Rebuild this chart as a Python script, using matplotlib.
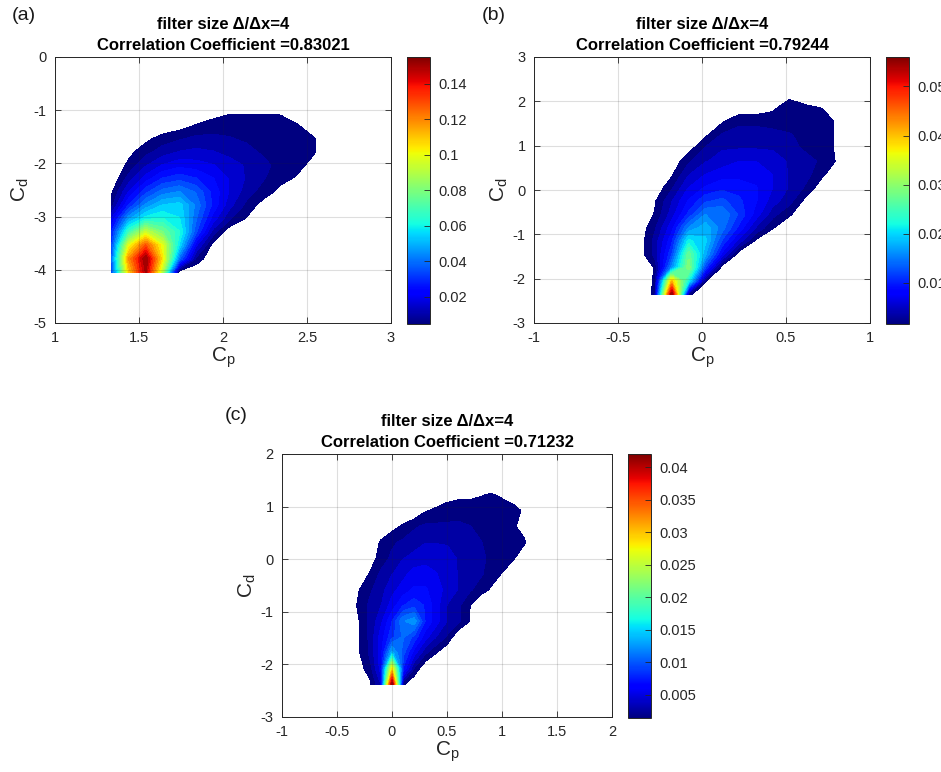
import numpy as np
import matplotlib
matplotlib.use('Agg')
import matplotlib.pyplot as plt
from matplotlib import colors, cm
from matplotlib.ticker import FuncFormatter

plt.rcParams['font.family'] = ['Liberation Sans', 'DejaVu Sans']
plt.rcParams['mathtext.fontset'] = 'custom'
plt.rcParams['mathtext.rm'] = 'Liberation Sans'

# ---- panel (a): joint pdf of Cp / Cd on the sampling grid
cp_a = [1.34, 1.44, 1.54, 1.64, 1.74, 1.84, 1.94, 2.04, 2.14, 2.24, 2.34, 2.44, 2.54, 2.64]
cd_a = [-4.04, -3.79, -3.54, -3.29, -3.04, -2.79, -2.54, -2.29, -2.04, -1.79, -1.54, -1.29, -1.04]
pdf_a = [
    [0.035, 0.110, 0.150, 0.090, 0, 0, 0, 0, 0, 0, 0, 0, 0, 0],
    [0.040, 0.120, 0.155, 0.105, 0.040, 0.008, 0, 0, 0, 0, 0, 0, 0, 0],
    [0.035, 0.100, 0.130, 0.100, 0.058, 0.020, 0.002, 0, 0, 0, 0, 0, 0, 0],
    [0.030, 0.070, 0.095, 0.080, 0.065, 0.035, 0.012, 0, 0, 0, 0, 0, 0, 0],
    [0.020, 0.048, 0.062, 0.065, 0.060, 0.040, 0.022, 0.010, 0.004, 0, 0, 0, 0, 0],
    [0.008, 0.030, 0.046, 0.055, 0.057, 0.043, 0.028, 0.016, 0.008, 0.002, 0, 0, 0, 0],
    [0.004, 0.020, 0.033, 0.042, 0.045, 0.039, 0.028, 0.019, 0.012, 0.007, 0.003, 0, 0, 0],
    [0, 0.012, 0.022, 0.030, 0.033, 0.030, 0.025, 0.019, 0.014, 0.010, 0.006, 0.004, 0, 0],
    [0, 0.006, 0.014, 0.020, 0.023, 0.022, 0.020, 0.017, 0.014, 0.011, 0.008, 0.006, 0.003, 0],
    [0, 0.003, 0.008, 0.012, 0.015, 0.016, 0.015, 0.013, 0.011, 0.009, 0.008, 0.007, 0.005, 0],
    [0, 0, 0.003, 0.007, 0.009, 0.011, 0.011, 0.010, 0.009, 0.008, 0.007, 0.006, 0.005, 0],
    [0, 0, 0, 0, 0.002, 0.005, 0.007, 0.008, 0.008, 0.008, 0.007, 0.005, 0.002, 0],
    [0, 0, 0, 0, 0, 0, 0.002, 0.004, 0.004, 0.004, 0.004, 0.002, 0, 0],
]
floor_a = 0.0047
corr_a = 0.83021

# ---- panel (b)
cp_b = [-0.38, -0.28, -0.18, -0.08, 0.02, 0.12, 0.22, 0.32, 0.42, 0.52, 0.62, 0.72, 0.82]
cd_b = [-2.35, -2.05, -1.75, -1.45, -1.15, -0.85, -0.55, -0.25, 0.05, 0.35, 0.65, 0.95,
        1.25, 1.55, 1.85, 2.15]
pdf_b = [
    [0, 0.002, 0.056, 0.002, 0, 0, 0, 0, 0, 0, 0, 0, 0],
    [0, 0.0018, 0.040, 0.022, 0.0017, 0, 0, 0, 0, 0, 0, 0, 0],
    [0, 0.0017, 0.016, 0.030, 0.012, 0, 0, 0, 0, 0, 0, 0, 0],
    [0, 0.004, 0.012, 0.028, 0.018, 0.008, 0, 0, 0, 0, 0, 0, 0],
    [0, 0.004, 0.010, 0.022, 0.020, 0.012, 0.006, 0.001, 0, 0, 0, 0, 0],
    [0, 0.003, 0.008, 0.016, 0.019, 0.015, 0.010, 0.005, 0.0017, 0, 0, 0, 0],
    [0, 0.0017, 0.006, 0.011, 0.016, 0.016, 0.012, 0.008, 0.004, 0.0018, 0, 0, 0],
    [0, 0.0013, 0.005, 0.009, 0.012, 0.013, 0.011, 0.009, 0.006, 0.004, 0.0007, 0, 0],
    [0, 0, 0.003, 0.007, 0.009, 0.010, 0.010, 0.009, 0.007, 0.005, 0.003, 0, 0],
    [0, 0, 0.0012, 0.005, 0.007, 0.008, 0.008, 0.008, 0.007, 0.005, 0.004, 0.0018, 0],
    [0, 0, 0, 0.003, 0.005, 0.006, 0.007, 0.007, 0.006, 0.005, 0.004, 0.003, 0.001],
    [0, 0, 0, 0.0005, 0.0035, 0.005, 0.005, 0.005, 0.005, 0.004, 0.003, 0.0025, 0.001],
    [0, 0, 0, 0, 0.001, 0.0035, 0.004, 0.004, 0.004, 0.0035, 0.003, 0.0025, 0.001],
    [0, 0, 0, 0, 0, 0.0012, 0.003, 0.003, 0.0025, 0.0025, 0.0025, 0.0022, 0.0012],
    [0, 0, 0, 0, 0, 0, 0, 0, 0.0012, 0.0025, 0.002, 0.0015, 0],
    [0, 0, 0, 0, 0, 0, 0, 0, 0, 0.001, 0, 0, 0],
]
floor_b = 0.0016
corr_b = 0.79244

# ---- panel (c)
cp_c = [-0.4, -0.3, -0.2, -0.1, 0.0, 0.1, 0.2, 0.3, 0.4, 0.5, 0.6, 0.7, 0.8, 0.9,
        1.0, 1.1, 1.2, 1.3]
cd_c = [-2.38, -2.08, -1.78, -1.48, -1.18, -0.88, -0.58, -0.28, 0.02, 0.32, 0.62, 0.92,
        1.22, 1.52]
pdf_c = [
    [0, 0, 0.001, 0.004, 0.042, 0.0016, 0, 0, 0, 0, 0, 0, 0, 0, 0, 0, 0, 0],
    [0, 0.0008, 0.002, 0.006, 0.028, 0.008, 0.0025, 0, 0, 0, 0, 0, 0, 0, 0, 0, 0, 0],
    [0, 0.0012, 0.003, 0.006, 0.014, 0.010, 0.006, 0.003, 0.0014, 0, 0, 0, 0, 0, 0, 0, 0, 0],
    [0, 0.0013, 0.003, 0.006, 0.009, 0.011, 0.009, 0.006, 0.004, 0.0025, 0, 0, 0, 0, 0, 0, 0, 0],
    [0, 0.0013, 0.003, 0.005, 0.008, 0.012, 0.013, 0.008, 0.006, 0.004, 0.003, 0.0014, 0, 0, 0, 0, 0, 0],
    [0, 0.0017, 0.003, 0.004, 0.006, 0.008, 0.009, 0.008, 0.006, 0.004, 0.003, 0.0015, 0, 0, 0, 0, 0, 0],
    [0, 0.0013, 0.0025, 0.0035, 0.005, 0.006, 0.007, 0.007, 0.006, 0.005, 0.004, 0.003, 0.002, 0.0012, 0, 0, 0, 0],
    [0, 0, 0.0015, 0.003, 0.004, 0.005, 0.006, 0.006, 0.0055, 0.005, 0.004, 0.0035, 0.003, 0.002, 0.0013, 0, 0, 0],
    [0, 0, 0.0005, 0.002, 0.003, 0.004, 0.0045, 0.005, 0.005, 0.0045, 0.004, 0.0035, 0.003, 0.0025, 0.002, 0.0016, 0, 0],
    [0, 0, 0, 0.0016, 0.0025, 0.003, 0.0035, 0.004, 0.004, 0.004, 0.0035, 0.003, 0.0028, 0.0025, 0.002, 0.0018, 0.0016, 0],
    [0, 0, 0, 0, 0.0008, 0.0016, 0.0025, 0.003, 0.003, 0.003, 0.003, 0.0028, 0.0025, 0.0022, 0.002, 0.0016, 0.0008, 0],
    [0, 0, 0, 0, 0, 0, 0, 0.0012, 0.0017, 0.002, 0.0022, 0.002, 0.002, 0.0022, 0.002, 0.0018, 0.0012, 0],
    [0, 0, 0, 0, 0, 0, 0, 0, 0, 0.0008, 0.001, 0.0011, 0.0013, 0.0015, 0.0012, 0.0008, 0, 0],
    [0] * 18,
]
floor_c = 0.0014
corr_c = 0.71232

filter_ratio = 4
n_levels = 30

xticks_a = [1, 1.5, 2, 2.5, 3]
yticks_a = [-5, -4, -3, -2, -1, 0]
cbticks_a = [0.02, 0.04, 0.06, 0.08, 0.1, 0.12, 0.14]
xticks_b = [-1, -0.5, 0, 0.5, 1]
yticks_b = [-3, -2, -1, 0, 1, 2, 3]
cbticks_b = [0.01, 0.02, 0.03, 0.04, 0.05]
xticks_c = [-1, -0.5, 0, 0.5, 1, 1.5, 2]
yticks_c = [-3, -2, -1, 0, 1, 2]
cbticks_c = [0.005, 0.01, 0.015, 0.02, 0.025, 0.03, 0.035, 0.04]

W, H = 941, 772
fmt = FuncFormatter(lambda v, p: '%g' % v)
txt_col = '0.15'
jet = plt.get_cmap('jet')


def box(l, t, w, h):
    return [l / W, 1 - (t + h) / H, w / W, h / H]


def panel(ax, cax, cp, cd, pdf, floor, corr, xt, yt, cbt, tag, tagpos):
    z = np.array(pdf)
    top = z.max()
    norm = colors.Normalize(vmin=floor, vmax=top)
    levels = np.linspace(floor, top, n_levels + 1)
    # each band takes the colour of its lower level
    fills = [jet(norm(v)) for v in levels[:-1]]
    cs = ax.contourf(cp, cd, z, levels=levels, colors=fills)
    cs.set_edgecolor('face')
    cs.set_linewidth(0.6)
    ax.set_xlim(xt[0], xt[-1])
    ax.set_ylim(yt[0], yt[-1])
    ax.set_xticks(xt)
    ax.set_yticks(yt)
    ax.xaxis.set_major_formatter(fmt)
    ax.yaxis.set_major_formatter(fmt)
    ax.set_axisbelow(False)
    ax.grid(True, color='0.15', alpha=0.15, linewidth=0.8)
    ax.tick_params(direction='in', top=True, right=True, length=4, width=0.6,
                   labelsize=10.5, colors=txt_col, pad=6)
    for s in ax.spines.values():
        s.set_color(txt_col)
        s.set_linewidth(0.7)
    ax.set_xlabel('C$_\\mathrm{p}$', fontsize=15, color=txt_col, labelpad=0)
    ax.set_ylabel('C$_\\mathrm{d}$', fontsize=15, color=txt_col, labelpad=2)
    ax.set_title('filter size \u0394/\u0394x=%d\nCorrelation Coefficient =%.5f' % (filter_ratio, corr),
                 fontsize=12, fontweight='bold', linespacing=1.5, pad=5)

    cb = plt.colorbar(cm.ScalarMappable(norm=norm, cmap=jet), cax=cax)
    cb.set_ticks(cbt)
    cb.ax.yaxis.set_major_formatter(fmt)
    cb.ax.tick_params(direction='in', length=4, width=0.6, labelsize=10.5,
                      colors=txt_col, pad=6)
    cb.outline.set_edgecolor(txt_col)
    cb.outline.set_linewidth(0.7)

    fig.text(tagpos[0] / W, 1 - tagpos[1] / H, tag, fontsize=14, color='0.1',
             va='center', ha='left')


fig = plt.figure(figsize=(W / 100, H / 100), dpi=100)

ax1 = fig.add_axes(box(55, 57, 336, 266))
cax1 = fig.add_axes(box(407, 57, 23, 267))
panel(ax1, cax1, cp_a, cd_a, pdf_a, floor_a, corr_a, xticks_a, yticks_a, cbticks_a,
      '(a)', (12, 15))

ax2 = fig.add_axes(box(534, 57, 336, 266))
cax2 = fig.add_axes(box(886, 57, 23, 267))
panel(ax2, cax2, cp_b, cd_b, pdf_b, floor_b, corr_b, xticks_b, yticks_b, cbticks_b,
      '(b)', (482, 15))

ax3 = fig.add_axes(box(282, 454, 330, 263))
cax3 = fig.add_axes(box(628, 454, 23, 264))
panel(ax3, cax3, cp_c, cd_c, pdf_c, floor_c, corr_c, xticks_c, yticks_c, cbticks_c,
      '(c)', (225, 415))

fig.savefig('out.png', dpi=100)
